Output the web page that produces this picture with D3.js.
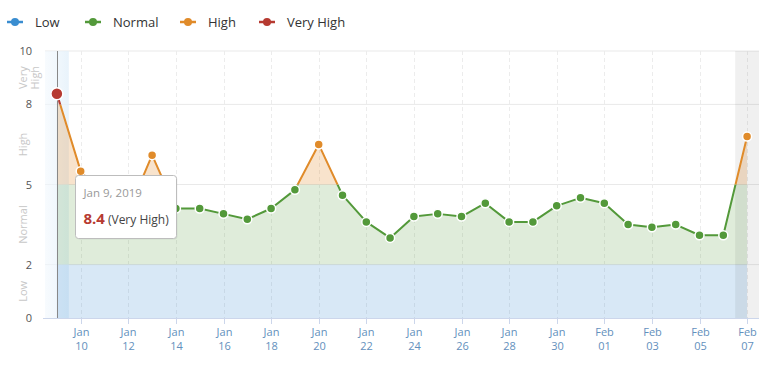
<!DOCTYPE html>
<html>
<head>
<meta charset="utf-8">
<script src="https://cdn.jsdelivr.net/npm/d3@7"></script>
<style>
  html, body { margin: 0; padding: 0; background: #fff; }
  svg { display: block; font-family: "Open Sans", "Noto Sans", sans-serif; }
</style>
</head>
<body>
<svg id="chart" width="775" height="372"></svg>
<script>
// ---- data ----
const dates = ["2019-01-09","2019-01-10","2019-01-11","2019-01-12","2019-01-13","2019-01-14","2019-01-15",
  "2019-01-16","2019-01-17","2019-01-18","2019-01-19","2019-01-20","2019-01-21","2019-01-22","2019-01-23",
  "2019-01-24","2019-01-25","2019-01-26","2019-01-27","2019-01-28","2019-01-29","2019-01-30","2019-01-31",
  "2019-02-01","2019-02-02","2019-02-03","2019-02-04","2019-02-05","2019-02-06","2019-02-07"];
const values = [8.4, 5.5, 4.5, 4.0, 6.1, 4.1, 4.1, 3.9, 3.7, 4.1, 4.8, 6.5, 4.6, 3.6, 3.0,
  3.8, 3.9, 3.8, 4.3, 3.6, 3.6, 4.2, 4.5, 4.3, 3.5, 3.4, 3.5, 3.1, 3.1, 6.8];
const zoneNames = ["Low", "Normal", "High", "Very High"];
const zoneBounds = [0, 2, 5, 8, 10];
const yTicks = [0, 2, 5, 8, 10];
const tickDates = ["2019-01-10","2019-01-12","2019-01-14","2019-01-16","2019-01-18","2019-01-20","2019-01-22",
  "2019-01-24","2019-01-26","2019-01-28","2019-01-30","2019-02-01","2019-02-03","2019-02-05","2019-02-07"];
const highlightDate = "2019-01-09";
const todayDate = "2019-02-07";

// ---- styles ----
const zoneColors = ["#3a8dd0", "#53993a", "#e08b2a", "#b63a31"];
const zoneFills = ["rgba(58,141,208,0.2)", "rgba(83,153,58,0.19)", "rgba(224,139,42,0.24)", "rgba(182,58,49,0.22)"];

const parse = d3.timeParse("%Y-%m-%d");
const data = dates.map((d, i) => ({ date: parse(d), value: values[i] }));
const zoneOf = v => v < zoneBounds[1] ? 0 : v < zoneBounds[2] ? 1 : v < zoneBounds[3] ? 2 : 3;

const svg = d3.select("#chart");
const plot = { left: 45, right: 759, top: 51, bottom: 318 };

const x = d3.scaleTime()
  .domain([d3.timeHour.offset(parse(dates[0]), -12), d3.timeHour.offset(parse(dates[dates.length - 1]), 12)])
  .range([plot.left, plot.right]);
const y = d3.scaleLinear().domain([0, 10]).range([plot.bottom, plot.top]);
const dayW = x(parse("2019-01-10")) - x(parse("2019-01-09"));

// ---- legend ----
const legendX = [15, 93, 188, 267];
const legend = svg.append("g");
zoneNames.forEach((n, i) => {
  const g = legend.append("g").attr("transform", `translate(${legendX[i]},22)`);
  g.append("line").attr("x1", -8).attr("x2", 8).attr("stroke", zoneColors[i]).attr("stroke-width", 2.5);
  g.append("circle").attr("r", 4).attr("fill", zoneColors[i]);
  g.append("text").attr("x", 20).attr("y", 4.5).attr("font-size", 13).attr("fill", "#333").text(n);
});

// ---- highlight bands ----
const defs = svg.append("defs");
const grad = defs.append("linearGradient").attr("id", "hl").attr("x1", 0).attr("x2", 1);
grad.append("stop").attr("offset", 0).attr("stop-color", "#f2f8fd").attr("stop-opacity", 0.6);
grad.append("stop").attr("offset", 1).attr("stop-color", "#e3f0fa").attr("stop-opacity", 0.8);

// ---- grid ----
const grid = svg.append("g");
grid.selectAll("line.h").data(yTicks.filter(t => t > 0)).join("line")
  .attr("x1", plot.left).attr("x2", plot.right)
  .attr("y1", d => y(d)).attr("y2", d => y(d))
  .attr("stroke", "#e9e9e9").attr("stroke-width", 1);
grid.selectAll("line.v").data(tickDates).join("line")
  .attr("x1", d => Math.round(x(parse(d))) + 0.5).attr("x2", d => Math.round(x(parse(d))) + 0.5)
  .attr("y1", plot.top).attr("y2", plot.bottom)
  .attr("stroke", "#ececec").attr("stroke-dasharray", "4,3");

// left hover band (under area)
svg.append("rect")
  .attr("x", x(parse(highlightDate)) - dayW / 2).attr("width", dayW)
  .attr("y", plot.top).attr("height", plot.bottom - plot.top)
  .attr("fill", "url(#hl)");

// ---- zone clip paths ----
zoneNames.forEach((n, i) => {
  defs.append("clipPath").attr("id", "zone" + i).append("rect")
    .attr("x", plot.left).attr("width", plot.right - plot.left)
    .attr("y", y(i === 3 ? 100 : zoneBounds[i + 1]))
    .attr("height", y(zoneBounds[i]) - y(i === 3 ? 100 : zoneBounds[i + 1]));
});

const area = d3.area().x(d => x(d.date)).y0(y(0)).y1(d => y(d.value));
const line = d3.line().x(d => x(d.date)).y(d => y(d.value));

zoneNames.forEach((n, i) => {
  svg.append("path").datum(data).attr("d", area)
    .attr("fill", zoneFills[i]).attr("clip-path", `url(#zone${i})`);
});

// zero axis line
svg.append("line").attr("x1", plot.left - 2).attr("x2", plot.right)
  .attr("y1", plot.bottom + 0.5).attr("y2", plot.bottom + 0.5)
  .attr("stroke", "#ccd6eb");

// today band (over area)
svg.append("rect")
  .attr("x", x(parse(todayDate)) - dayW / 2).attr("width", dayW)
  .attr("y", plot.top).attr("height", plot.bottom - plot.top)
  .attr("fill", "rgba(0,0,0,0.06)");

// crosshair
svg.append("line")
  .attr("x1", Math.round(x(parse(highlightDate))) + 0.5).attr("x2", Math.round(x(parse(highlightDate))) + 0.5)
  .attr("y1", plot.top).attr("y2", plot.bottom)
  .attr("stroke", "#888").attr("stroke-width", 1);

zoneNames.forEach((n, i) => {
  svg.append("path").datum(data).attr("d", line)
    .attr("fill", "none").attr("stroke", zoneColors[i]).attr("stroke-width", 2)
    .attr("stroke-linejoin", "round").attr("clip-path", `url(#zone${i})`);
});

// points
svg.append("g").selectAll("circle").data(data).join("circle")
  .attr("cx", d => x(d.date)).attr("cy", d => y(d.value))
  .attr("r", d => +d.date === +parse(highlightDate) ? 6 : 4.5)
  .attr("fill", d => zoneColors[zoneOf(d.value)])
  .attr("stroke", "#fff").attr("stroke-width", 1.5);

// ---- y axis labels ----
svg.append("g").selectAll("text").data(yTicks).join("text")
  .attr("x", 32).attr("y", d => y(d) + 4).attr("text-anchor", "end")
  .attr("font-size", 11).attr("fill", "#555").text(d => d);

// zone labels (rotated)
zoneNames.forEach((n, i) => {
  const mid = y((zoneBounds[i] + zoneBounds[i + 1]) / 2);
  const words = i === 3 ? n.split(" ") : [n];
  const t = svg.append("text")
    .attr("transform", `translate(23,${mid}) rotate(-90)`)
    .attr("text-anchor", "middle").attr("font-size", 11).attr("fill", "#c8c8c8");
  words.forEach((w, k) => {
    t.append("tspan").attr("x", 0)
      .attr("y", words.length > 1 ? (k === 0 ? 4 : 16) : 4).text(w);
  });
});

// ---- x axis ----
const fmtM = d3.timeFormat("%b"), fmtD = d3.timeFormat("%d");
const xt = svg.append("g").selectAll("g").data(tickDates.map(parse)).join("g")
  .attr("transform", d => `translate(${Math.round(x(d)) + 0.5},0)`);
xt.append("line").attr("y1", plot.bottom).attr("y2", plot.bottom + 6).attr("stroke", "#ccd6eb");
xt.append("text").attr("y", 336).attr("text-anchor", "middle").attr("font-size", 11)
  .attr("fill", "#6390bd").text(fmtM);
xt.append("text").attr("y", 350).attr("text-anchor", "middle").attr("font-size", 11)
  .attr("fill", "#6390bd").text(fmtD);

// ---- tooltip ----
const hi = data.find(d => +d.date === +parse(highlightDate));
const tip = svg.append("g").attr("transform", "translate(75.5,175.5)");
tip.append("rect").attr("x", 1).attr("y", 1).attr("width", 101).attr("height", 63).attr("rx", 3)
  .attr("fill", "rgba(0,0,0,0.06)");
tip.append("rect").attr("width", 101).attr("height", 63).attr("rx", 3)
  .attr("fill", "#fff").attr("stroke", "#bdbdbd");
tip.append("text").attr("x", 8).attr("y", 21).attr("font-size", 11.5).attr("fill", "#999")
  .text(d3.timeFormat("%b %-d, %Y")(hi.date));
const tl = tip.append("text").attr("x", 8).attr("y", 48);
tl.append("tspan").attr("font-size", 15).attr("font-weight", "bold").attr("fill", zoneColors[zoneOf(hi.value)])
  .text(hi.value.toFixed(1));
tl.append("tspan").attr("dx", 3).attr("font-size", 12).attr("fill", "#444")
  .text(`(${zoneNames[zoneOf(hi.value)]})`);
</script>
</body>
</html>
